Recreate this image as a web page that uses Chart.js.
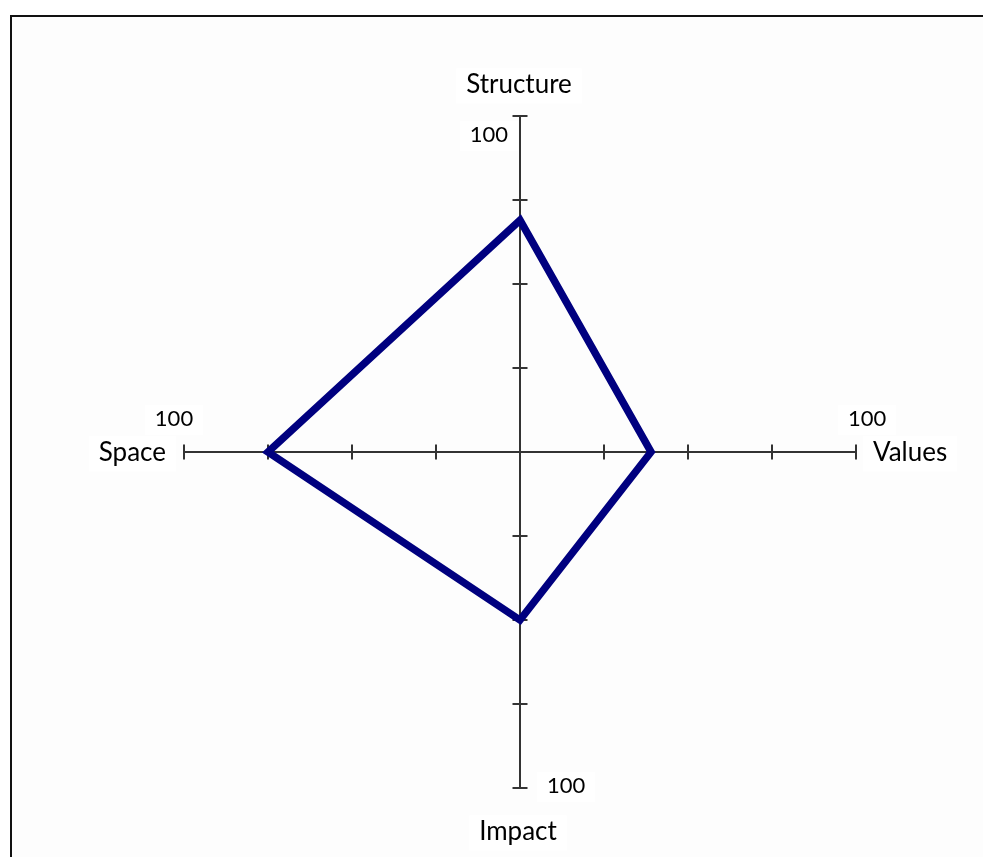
<!DOCTYPE html>
<html>
<head>
<meta charset="utf-8">
<script src="https://cdn.jsdelivr.net/npm/chart.js@4/dist/chart.umd.min.js"></script>
<style>
  html, body { margin: 0; padding: 0; background: #ffffff; }
  #wrap { position: absolute; left: 0; top: 0; width: 983px; height: 857px; }
</style>
</head>
<body>
<div id="wrap"><canvas id="c"></canvas></div>
<script>
// ---- data ----
const categories = ['Structure', 'Values', 'Impact', 'Space'];
const scores = [69, 39, 50, 75];
const tickValues = [25, 50, 75, 100];
const scaleMin = 0;
const scaleMax = 100;
const maxTickLabel = '100';

const FONT_LABEL = '26px Lato';
const FONT_NUM = '22px Lato';
const TEXT_COLOR = '#000000';
const AXIS_COLOR = '#333333';

// offsets of texts relative to each axis end: [dx, dy, align]
const labelOffsets = [
  { name: [-1, -23, 'center'], num: [-12, 26, 'right'] },   // top
  { name: [17, 9, 'left'],     num: [-8, -26, 'left'] },    // right
  { name: [-2, 52, 'center'],  num: [27, 5, 'left'] },      // bottom
  { name: [-18, 9, 'right'],   num: [-10, -26, 'center'] }  // left
];

function drawTextWithBackdrop(ctx, text, x, y, align, font) {
  ctx.save();
  ctx.font = font;
  ctx.textAlign = align;
  ctx.textBaseline = 'alphabetic';
  const w = ctx.measureText(text).width;
  let left = x;
  if (align === 'center') left = x - w / 2;
  else if (align === 'right') left = x - w;
  const size = parseInt(font, 10);
  ctx.fillStyle = '#ffffff';
  ctx.fillRect(left - 10, y - size * 0.95, w + 20, size * 1.35);
  ctx.fillStyle = TEXT_COLOR;
  ctx.fillText(text, x, y);
  ctx.restore();
}

const axisDecor = {
  id: 'axisDecor',
  beforeDraw(chart) {
    const ctx = chart.ctx;
    ctx.save();
    ctx.fillStyle = '#ffffff';
    ctx.fillRect(0, 0, chart.width, chart.height);
    ctx.fillStyle = '#fdfdfd';
    ctx.fillRect(11, 16, chart.width - 11, chart.height - 16);
    ctx.strokeStyle = '#111111';
    ctx.lineWidth = 2;
    ctx.beginPath();
    ctx.moveTo(11, chart.height);
    ctx.lineTo(11, 16);
    ctx.lineTo(chart.width, 16);
    ctx.stroke();
    ctx.restore();
  },
  beforeDatasetsDraw(chart) {
    const ctx = chart.ctx;
    const scale = chart.scales.r;
    const n = categories.length;
    ctx.save();
    ctx.strokeStyle = AXIS_COLOR;
    ctx.lineWidth = 2;
    for (let i = 0; i < n; i++) {
      const end = scale.getPointPositionForValue(i, scaleMax);
      const ang = end.angle;
      const px = -Math.sin(ang), py = Math.cos(ang); // perpendicular
      tickValues.forEach(v => {
        const p = scale.getPointPositionForValue(i, v);
        const half = 7.5;
        ctx.beginPath();
        ctx.moveTo(p.x - px * half, p.y - py * half);
        ctx.lineTo(p.x + px * half, p.y + py * half);
        ctx.stroke();
      });
    }
    ctx.restore();
    for (let i = 0; i < n; i++) {
      const end = scale.getPointPositionForValue(i, scaleMax);
      const o = labelOffsets[i];
      drawTextWithBackdrop(ctx, maxTickLabel, end.x + o.num[0], end.y + o.num[1], o.num[2], FONT_NUM);
      drawTextWithBackdrop(ctx, categories[i], end.x + o.name[0], end.y + o.name[1], o.name[2], FONT_LABEL);
    }
  }
};

new Chart(document.getElementById('c'), {
  type: 'radar',
  data: {
    labels: categories,
    datasets: [{
      data: scores,
      borderColor: '#00007f',
      borderWidth: 7.5,
      borderJoinStyle: 'miter',
      fill: false,
      pointRadius: 0,
      pointHoverRadius: 0,
      tension: 0
    }]
  },
  options: {
    responsive: true,
    maintainAspectRatio: false,
    animation: false,
    events: [],
    layout: { padding: { left: 184, top: 116, right: 127, bottom: 69 } },
    plugins: { legend: { display: false }, tooltip: { enabled: false } },
    scales: {
      r: {
        min: scaleMin,
        max: scaleMax,
        startAngle: 0,
        grid: { display: false },
        angleLines: { display: true, color: AXIS_COLOR, lineWidth: 2 },
        ticks: { display: false, stepSize: 25 },
        pointLabels: { display: false }
      }
    }
  },
  plugins: [axisDecor]
});
</script>
</body>
</html>
